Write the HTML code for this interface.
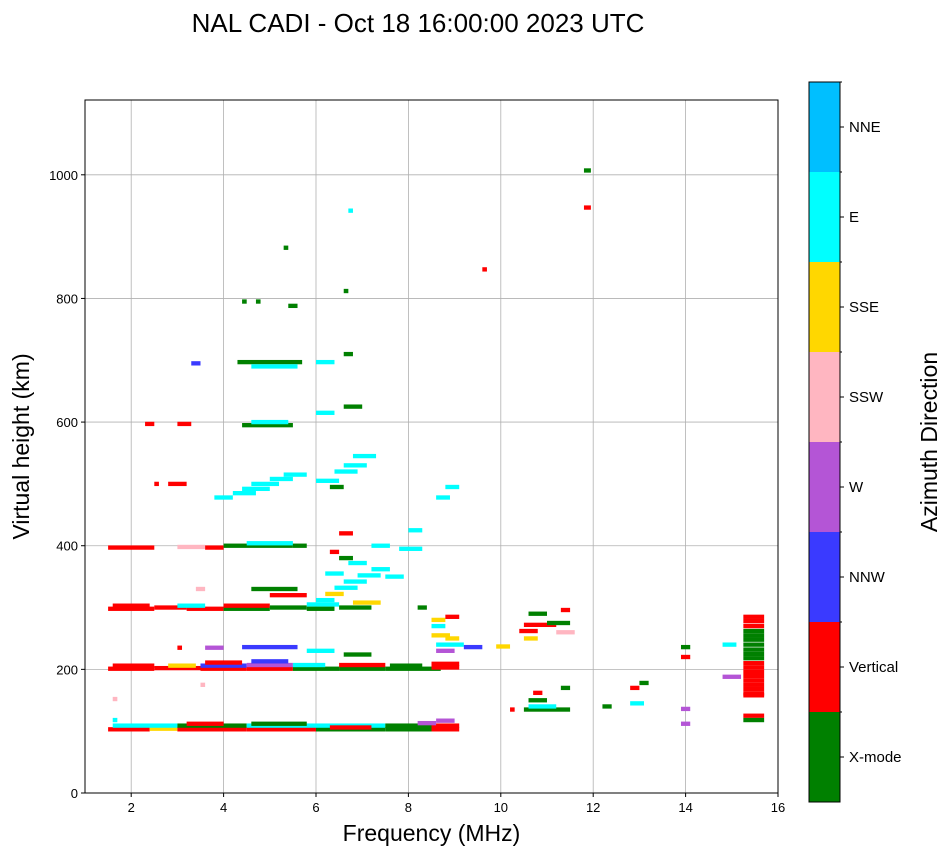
<!DOCTYPE html>
<html><head><meta charset="utf-8"><style>
body{margin:0;background:#fff;font-family:"Liberation Sans",sans-serif}
</style></head><body>
<svg id="svg" width="951" height="856" xmlns="http://www.w3.org/2000/svg" font-family="Liberation Sans, sans-serif">
<text x="418" y="32" font-size="26" text-anchor="middle">NAL CADI - Oct 18 16:00:00 2023 UTC</text>
<g id="grid"></g><g id="marks"></g><g id="axes"></g><g id="cbar"></g>
</svg>
<script>
const colorNames=["X-mode","Vertical","NNW","W","SSW","SSE","E","NNE"];
const colorVals=["#008000","#ff0000","#3a3aff","#b455d6","#ffb6c1","#ffd700","#00ffff","#00bfff"];
const xTicks=[2,4,6,8,10,12,14,16];
const yTicks=[0,200,400,600,800,1000];
// runs: [freqStart, freqEnd, height km, colorIndex]
const runs=[
[1.5,2.4,103,1],[2.4,3.0,104,5],[1.6,3.0,109,6],[3.0,4.5,103,1],[3.0,4.5,109,0],[3.2,4.0,112,1],[4.5,6,103,1],[4.5,6,109,6],[4.6,5.8,112,0],[6,7.5,103,0],[6,7.5,109,6],[6.3,7.2,106,1],[7.5,8.5,103,0],[7.5,8.5,109,0],[8.5,9.1,103,1],[8.5,9.1,109,1],[8.2,8.6,113,3],[8.6,9.0,117,3],[1.6,1.7,118,6],[1.6,1.7,152,4],
[1.5,2.5,201,1],[1.6,2.5,206,1],[2.5,3.5,202,1],[2.8,3.4,206,5],[3.5,4.5,201,1],[3.5,4.5,206,2],[3.6,4.4,211,1],[4.5,5.5,201,1],[4.5,5.5,207,3],[4.6,5.4,213,2],[5.5,6.5,201,0],[5.5,6.2,207,6],[6.5,7.5,201,0],[6.5,7.5,207,1],[7.5,8.7,201,0],[7.6,8.3,206,0],[8.5,9.1,203,1],[8.5,9.1,209,1],[3.0,3.1,235,1],[3.6,4.0,235,3],[4.4,5.6,236,2],[5.8,6.4,230,6],[6.6,7.2,224,0],[3.5,3.6,175,4],[8.6,9.0,230,3],
[1.5,2.5,298,1],[1.6,2.4,303,1],[2.5,3.2,300,1],[3.2,4.0,298,1],[3.0,3.6,303,6],[4,5,298,0],[4,5,303,1],[5,5.8,300,0],[5.8,6.5,305,6],[5.8,6.4,298,0],[6.5,7.2,300,0],[6.8,7.4,308,5],[8.2,8.4,300,0],[3.4,3.6,330,4],[4.6,5.6,330,0],[5.0,5.8,320,1],
[6.0,6.4,312,6],[6.2,6.6,322,5],[6.4,6.9,332,6],[6.6,7.1,342,6],[6.9,7.4,352,6],[7.2,7.6,362,6],[7.5,7.9,350,6],[6.2,6.6,355,6],[6.7,7.1,372,6],[6.3,6.5,390,1],[6.5,6.8,380,0],
[1.5,2.5,397,1],[3,3.6,398,4],[3.6,4,397,1],[4,5.5,400,0],[4.5,5.5,404,6],[5.5,5.8,400,0],[6.5,6.8,420,1],[7.2,7.6,400,6],[7.8,8.3,395,6],[8.0,8.3,425,6],
[2.8,3.2,500,1],[2.5,2.6,500,1],[3.8,4.2,478,6],[4.2,4.7,485,6],[4.4,5.0,492,6],[4.6,5.2,500,6],[5.0,5.5,508,6],[5.3,5.8,515,6],[6.0,6.5,505,6],[6.4,6.9,520,6],[6.6,7.1,530,6],[6.8,7.3,545,6],[8.6,8.9,478,6],[8.8,9.1,495,6],[6.3,6.6,495,0],
[2.3,2.5,597,1],[3,3.3,597,1],[4.4,5.5,595,0],[4.6,5.4,600,6],[6.0,6.4,615,6],[6.6,7.0,625,0],
[3.3,3.5,695,2],[4.3,5.7,697,0],[4.6,5.6,690,6],[6.0,6.4,697,6],[6.6,6.8,710,0],[4.4,4.5,795,0],[4.7,4.8,795,0],[5.4,5.6,788,0],[6.6,6.7,812,0],
[8.5,8.8,280,5],[8.5,8.8,270,6],[8.5,8.9,255,5],[8.8,9.1,250,5],[8.8,9.1,285,1],[8.6,9.2,240,6],[9.2,9.6,236,2],[9.9,10.2,237,5],
[10.4,10.8,262,1],[10.5,11.2,272,1],[10.6,11.0,290,0],[10.5,10.8,250,5],[11.0,11.5,275,0],[11.2,11.6,260,4],[11.3,11.5,296,1],
[10.5,11.5,135,0],[10.6,11.2,140,6],[10.6,11.0,150,0],[10.7,10.9,162,1],[11.3,11.5,170,0],[10.2,10.3,135,1],[12.2,12.4,140,0],[12.8,13.1,145,6],[12.8,13.0,170,1],[13.0,13.2,178,0],
[13.9,14.1,236,0],[13.9,14.1,220,1],[13.9,14.1,136,3],[13.9,14.1,112,3],[14.8,15.1,240,6],[14.8,15.2,188,3],
[15.25,15.7,285,1],[15.25,15.7,278,1],[15.25,15.7,270,1],[15.25,15.7,262,0],[15.25,15.7,255,0],[15.25,15.7,248,0],[15.25,15.7,240,0],[15.25,15.7,232,0],[15.25,15.7,225,0],[15.25,15.7,218,0],[15.25,15.7,210,1],[15.25,15.7,203,1],[15.25,15.7,196,1],[15.25,15.7,189,1],[15.25,15.7,182,1],[15.25,15.7,175,1],[15.25,15.7,168,1],[15.25,15.7,161,1],[15.25,15.7,158,1],[15.25,15.7,125,1],[15.25,15.7,118,0],
[11.8,11.95,1007,0],[11.8,11.95,947,1],[9.6,9.7,847,1],[6.7,6.8,942,6],[5.3,5.4,882,0]
];
const X0=85,X1=778,Y0=793,Y1=100,fmin=1,fmax=16,hmin=0,hmax=1121;
const xs=f=>X0+(f-fmin)/(fmax-fmin)*(X1-X0);
const ys=h=>Y0-(h-hmin)/(hmax-hmin)*(Y0-Y1);
const NS="http://www.w3.org/2000/svg";
function mk(t,a,p){const e=document.createElementNS(NS,t);for(const k in a)e.setAttribute(k,a[k]);p.appendChild(e);return e;}
const grid=document.getElementById('grid'),marks=document.getElementById('marks'),axes=document.getElementById('axes'),cb=document.getElementById('cbar');
xTicks.forEach(t=>{const l=mk('line',{x1:xs(t),x2:xs(t),y1:Y1,y2:Y0,stroke:'#b0b0b0','stroke-width':0.8},grid);


mk('line',{x1:xs(t),x2:xs(t),y1:Y0,y2:Y0+4,stroke:'#000'},axes);
const tx=mk('text',{x:xs(t),y:Y0+19,'font-size':13,'text-anchor':'middle'},axes);tx.textContent=t;

});
yTicks.forEach(t=>{const l=mk('line',{x1:X0,x2:X1,y1:ys(t),y2:ys(t),stroke:'#b0b0b0','stroke-width':0.8},grid);


mk('line',{x1:X0-4,x2:X0,y1:ys(t),y2:ys(t),stroke:'#000'},axes);
const tx=mk('text',{x:X0-7,y:ys(t)+5,'font-size':13,'text-anchor':'end'},axes);tx.textContent=t;

});
runs.forEach(r=>{const x=xs(r[0]),w=Math.max(4,xs(r[1])-x),y=ys(r[2]+3.5),h=Math.max(4,ys(r[2]-3.5)-y);
const e=mk('rect',{x:x,y:y,width:w,height:h,fill:colorVals[r[3]]},marks);

});
const fr=mk('rect',{x:X0,y:Y1,width:X1-X0,height:Y0-Y1,fill:'none',stroke:'#000','stroke-width':1},axes);


const xl=mk('text',{x:(X0+X1)/2,y:841,'font-size':23,'text-anchor':'middle'},axes);xl.textContent='Frequency (MHz)';


const yl=mk('text',{x:0,y:0,'font-size':23,'text-anchor':'middle',transform:`translate(29,${(Y0+Y1)/2}) rotate(-90)`},axes);yl.textContent='Virtual height (km)';


const CX=809,CW=31,CT=82,CB=802,n=colorNames.length,bh=(CB-CT)/n;
colorNames.forEach((nm,i)=>{const y=CB-(i+1)*bh;
const r=mk('rect',{x:CX,y:y,width:CW,height:bh,fill:colorVals[i]},cb);


mk('line',{x1:CX+CW,x2:CX+CW+4,y1:y+bh/2,y2:y+bh/2,stroke:'#000'},cb);
mk('line',{x1:CX+CW,x2:CX+CW+2,y1:y,y2:y,stroke:'#000'},cb);
const t=mk('text',{x:CX+CW+9,y:y+bh/2+5,'font-size':15},cb);t.textContent=nm;

});
mk('rect',{x:CX,y:CT,width:CW,height:CB-CT,fill:'none',stroke:'#000'},cb);
const cl=mk('text',{x:0,y:0,'font-size':23,'text-anchor':'middle',transform:`translate(937,${(CT+CB)/2}) rotate(-90)`},cb);cl.textContent='Azimuth Direction';


</script>
</body></html>
